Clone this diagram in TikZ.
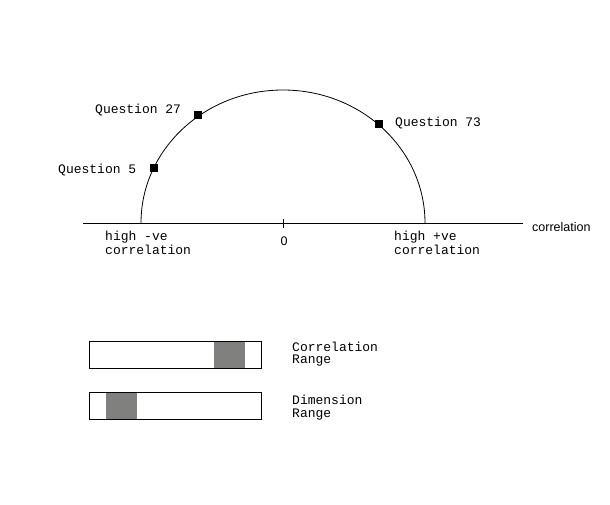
\documentclass[tikz,border=0pt]{standalone}
\usepackage{fontspec}
\setmonofont{Liberation Mono}
\setsansfont{Liberation Sans}
\definecolor{shade}{RGB}{128,128,126}
\begin{document}
\begin{tikzpicture}[x=1pt,y=-1pt,
  lbl/.style={font=\fontsize{13}{14}\selectfont\ttfamily, inner sep=0pt, anchor=base west},
  sanslbl/.style={font=\fontsize{12.5}{14}\selectfont\sffamily, inner sep=0pt},
  marker/.style={fill=black, minimum size=8pt, inner sep=0pt, draw=none},
  bar/.style={draw=black, line width=0.8pt},
  fillbar/.style={fill=shade, draw=none},
  line/.style={line width=0.8pt}]
\useasboundingbox (0,0) rectangle (610,504);
\fill[white] (0,0) rectangle (610,504);
% axis
\coordinate (axL) at (83,223);
\coordinate (axR) at (523,223);
\coordinate (tickT) at (283.5,219);
\coordinate (tickB) at (283.5,228);
\draw[line] (axL) -- (axR);
\draw[line] (tickT) -- (tickB);
\node[sanslbl, anchor=base west] (corr) at (532,231) {correlation};
\node[sanslbl, anchor=base] (zero) at (284,245) {0};
% semicircle
\coordinate (cL) at (141,223);
\draw[line] (cL) arc[start angle=180, end angle=0, x radius=142, y radius=-133];
% markers
\node[marker] (q27) at (198,115) {};
\node[marker] (q5) at (154,168) {};
\node[marker] (q73) at (379,124) {};
\node[lbl] (l27) at (95,113) {Question 27};
\node[lbl] (l5) at (58,173) {Question 5};
\node[lbl] (l73) at (395,126) {Question 73};
\node[lbl] (neg1) at (105,240) {high -ve};
\node[lbl] (neg2) at (105,254) {correlation};
\node[lbl] (pos1) at (394,240) {high +ve};
\node[lbl] (pos2) at (394,254) {correlation};
% range bars
\fill[fillbar] (214,341.5) rectangle (244.5,368.5);
\draw[bar] (89.5,341.5) rectangle (261.5,368.5);
\fill[fillbar] (106,392.5) rectangle (136.5,419);
\draw[bar] (89.5,392.5) rectangle (261.5,419);
\node[lbl] (cr1) at (292,351.7) {Correlation};
\node[lbl] (cr2) at (292,363.3) {Range};
\node[lbl] (dr1) at (292,404) {Dimension};
\node[lbl] (dr2) at (292,417) {Range};
\end{tikzpicture}
\end{document}
